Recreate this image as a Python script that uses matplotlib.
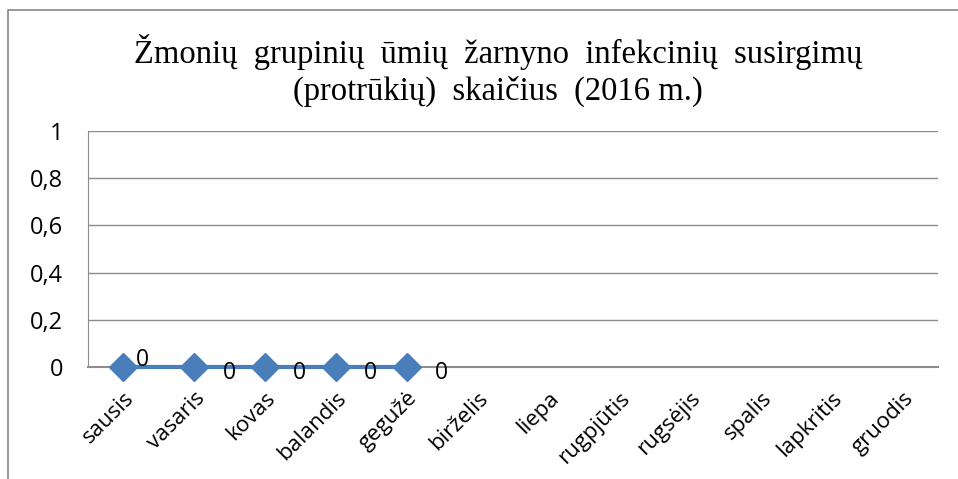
import numpy as np
import matplotlib.pyplot as plt
from matplotlib.patches import Rectangle

months = ["sausis", "vasaris", "kovas", "balandis", "gegužė", "birželis",
          "liepa", "rugpjūtis", "rugsėjis", "spalis", "lapkritis", "gruodis"]
values = [0, 0, 0, 0, 0]
yticks = [0, 0.2, 0.4, 0.6, 0.8, 1]
ytick_labels = ["0", "0,2", "0,4", "0,6", "0,8", "1"]

LINE_COLOR = "#4A7EBB"
GRID_COLOR = "#8C8C8C"
SANS = "Open Sans"

fig = plt.figure(figsize=(9.58, 4.79), dpi=100)
ax = fig.add_axes([88 / 958, 1 - 367 / 479, 850 / 958, 236 / 479])

# chart border (only top and left are visible in the original)
fig.patches.append(Rectangle((8 / 958, -0.1), 1.2, 1 - 10 / 479 + 0.1,
                             transform=fig.transFigure, fill=False,
                             edgecolor="#888888", linewidth=1.2))

x = np.arange(len(values))
ax.plot(x, values, color=LINE_COLOR, linewidth=3, marker="D",
        markersize=14, markerfacecolor=LINE_COLOR, markeredgecolor=LINE_COLOR,
        zorder=5, clip_on=False)

for i, v in enumerate(values):
    if i == 0:
        off = (14, 5)
    else:
        off = (25, -4.5)
    ax.annotate(str(v), (i, v), xytext=off, textcoords="offset points",
                ha="center", va="center", fontsize=16.5, family=SANS,
                annotation_clip=False, zorder=6)

ax.set_xlim(-0.5, len(months) - 0.5)
ax.set_ylim(0, 1)
ax.set_yticks(yticks)
ax.set_yticklabels(ytick_labels, family=SANS, fontsize=17)
ax.set_xticks(np.arange(len(months)))
ax.set_xticklabels(months, rotation=45, ha="right", rotation_mode="anchor",
                   family=SANS, fontsize=16)
ax.tick_params(axis="y", length=0, pad=18)
ax.tick_params(axis="x", length=0, pad=15)

ax.grid(axis="y", color=GRID_COLOR, linewidth=1)
ax.set_axisbelow(True)
for side in ["top", "right"]:
    ax.spines[side].set_visible(False)
ax.spines["left"].set_color(GRID_COLOR)
ax.spines["bottom"].set_color(GRID_COLOR)
ax.spines["bottom"].set_linewidth(1.5)

fig.text(0.52, 0.853, "Žmonių  grupinių  ūmių  žarnyno  infekcinių  susirgimų\n"
         "(protrūkių)  skaičius  (2016 m.)",
         ha="center", va="center", family="Liberation Serif", fontsize=23.5,
         linespacing=1.25)

fig.savefig("out.png", dpi=100)
